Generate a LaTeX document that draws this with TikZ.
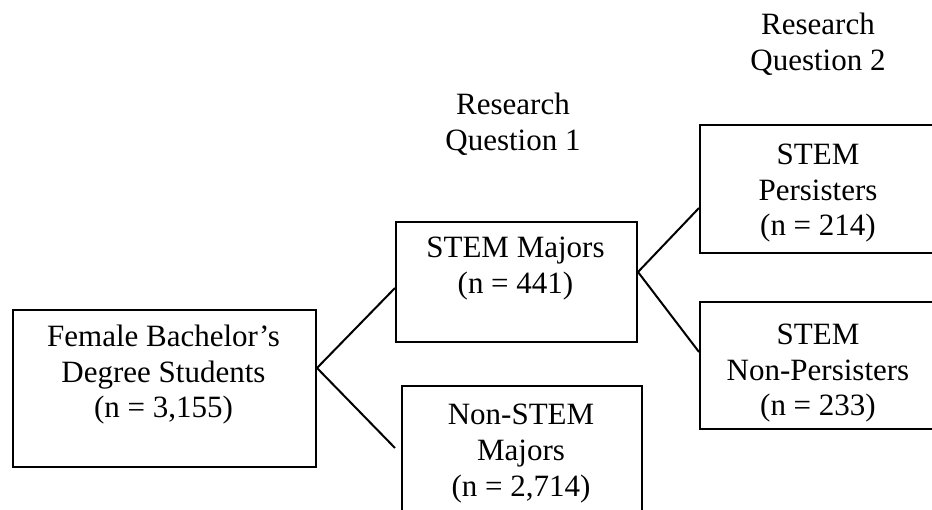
\documentclass[tikz,border=0pt]{standalone}
\usepackage{fontspec}
\setmainfont{Liberation Serif}
\usetikzlibrary{calc}
\tikzset{
  boxnode/.style={draw=black, line width=2pt, rectangle, inner sep=0pt, anchor=north west},
  txtnode/.style={inner sep=0pt, anchor=base, font=\fontsize{31}{35.5}\selectfont},
  conn/.style={draw=black, line width=2pt}
}
\newcommand{\ctext}[1]{\parbox[t]{300pt}{\centering #1}}
\begin{document}
\begin{tikzpicture}[x=1pt,y=-1pt]
\useasboundingbox (0,0) rectangle (932,510);
\clip (0,0) rectangle (932,510);
% boxes
\node[boxnode, minimum width=303pt, minimum height=157pt] (A) at (12,309) {};
\node[boxnode, minimum width=241pt, minimum height=120pt] (B) at (395,221) {};
\node[boxnode, minimum width=240pt, minimum height=150pt] (C) at (401,385) {};
\node[boxnode, minimum width=240pt, minimum height=128pt] (D) at (699,124) {};
\node[boxnode, minimum width=240pt, minimum height=127pt] (E) at (699,301) {};
% texts
\node[txtnode] (At) at (163.5,347) {\ctext{Female Bachelor’s\\Degree Students\\(n = 3,155)}};
\node[txtnode] (Bt) at (515.5,258) {\ctext{STEM Majors\\(n = 441)}};
\node[txtnode] (Ct) at (521,425) {\ctext{Non-STEM\\Majors\\(n = 2,714)}};
\node[txtnode] (Dt) at (818,165) {\ctext{STEM\\Persisters\\(n = 214)}};
\node[txtnode] (Et) at (818,345) {\ctext{STEM\\Non-Persisters\\(n = 233)}};
\node[txtnode] (Q1) at (513,115) {\ctext{Research\\Question 1}};
\node[txtnode] (Q2) at (818,35) {\ctext{Research\\Question 2}};
% connectors
\coordinate (j1) at ($(A.north east)+(0,59)$);
\coordinate (j2) at ($(B.north east)+(0,51)$);
\coordinate (c1) at ($(B.north west)+(0,227)$);
\draw[conn] (j1) -- ($(B.north west)+(0,67)$);
\draw[conn] (j1) -- (c1);
\draw[conn] (j2) -- ($(D.north west)+(0,84)$);
\draw[conn] (j2) -- ($(E.north west)+(0,51)$);
\end{tikzpicture}
\end{document}
